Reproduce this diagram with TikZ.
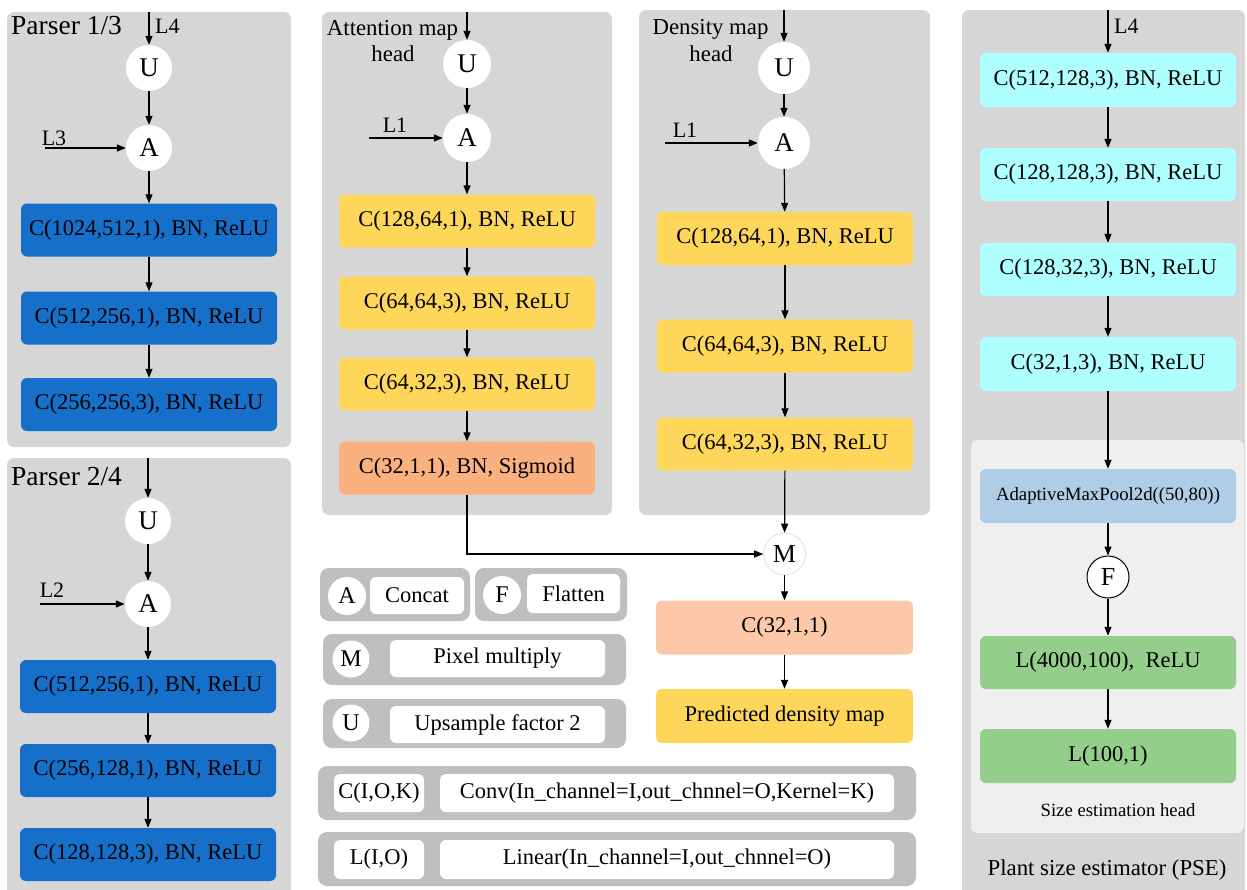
\documentclass[tikz,border=0pt]{standalone}
\usepackage{fontspec}
\setmainfont{Liberation Serif}
\usetikzlibrary{arrows.meta}
\definecolor{panelgray}{RGB}{214,214,214}
\definecolor{leggray}{RGB}{191,191,191}
\definecolor{innergray}{RGB}{239,239,239}
\definecolor{pblue}{RGB}{22,111,200}
\definecolor{pyellow}{RGB}{254,214,90}
\definecolor{psalmon}{RGB}{251,176,128}
\definecolor{plsalmon}{RGB}{253,200,168}
\definecolor{pcyan}{RGB}{176,255,255}
\definecolor{plblue}{RGB}{176,205,232}
\definecolor{pgreen}{RGB}{147,206,138}
\definecolor{mgray}{RGB}{215,215,215}
\begin{document}
\begin{tikzpicture}[x=1pt,y=-1pt,
 panel/.style={fill=panelgray, rounded corners=7pt},
 leg/.style={fill=leggray, rounded corners=9pt},
 blk/.style={rectangle, rounded corners=6pt, minimum width=256pt, minimum height=53pt, inner sep=0pt, font=\fontsize{22.5}{26}\selectfont},
 circ/.style={circle, fill=white, minimum size=47pt, inner sep=0pt, font=\fontsize{27}{30}\selectfont},
 arr/.style={-{Triangle[length=9pt,width=7pt]}, line width=1.2pt},
 lbl/.style={font=\fontsize{22}{26}\selectfont, inner sep=0pt, anchor=base},
 ttl/.style={font=\fontsize{22.8}{26}\selectfont, inner sep=0pt, anchor=base},
 legc/.style={circle, fill=white, minimum size=38pt, inner sep=0pt, font=\fontsize{24}{28}\selectfont},
 legt/.style={rectangle, fill=white, rounded corners=6pt, minimum height=37pt, inner sep=0pt, font=\fontsize{22.5}{26}\selectfont},
]
\useasboundingbox (0,0) rectangle (1247,889);

% ---------- panels ----------
\fill[panel] (7,12) rectangle (291,447);
\fill[panel] (7,458) rectangle (291,900);
\fill[panel] (322,12) rectangle (612,515);
\fill[panel] (639,10) rectangle (930,515);
\fill[panel] (962,10) rectangle (1245,900);
\fill[innergray, rounded corners=7pt] (971,440) rectangle (1244,833);

% ---------- Parser 1/3 ----------
\node[font=\fontsize{27.5}{30}\selectfont, inner sep=0pt, anchor=base west] (t1) at (11,34) {Parser 1/3};
\coordinate (in1) at (149,12);
\node[circ, minimum size=46pt] (U1) at (149,68) {U};
\node[circ, minimum size=46pt] (A1) at (149,148) {A};
\node[blk, fill=pblue] (p1a) at (149,230) {C(1024,512,1), BN, ReLU};
\node[blk, fill=pblue] (p1b) at (149,318) {C(512,256,1), BN, ReLU};
\node[blk, fill=pblue] (p1c) at (149,404.5) {C(256,256,3), BN, ReLU};
\node[lbl, anchor=base west] (l4a) at (155,33) {L4};
\coordinate (l3s) at (45,148);
\node[lbl] (l3) at (54,145) {L3};
\draw[arr] (in1) -- (U1);
\draw[arr] (U1) -- (A1);
\draw[arr] (l3s) -- (A1.west);
\draw[arr] (A1) -- (p1a);
\draw[arr] (p1a) -- (p1b);
\draw[arr] (p1b) -- (p1c);

% ---------- Parser 2/4 ----------
\node[font=\fontsize{27.5}{30}\selectfont, inner sep=0pt, anchor=base west] (t2) at (11,485) {Parser 2/4};
\coordinate (in2) at (148,458);
\node[circ, minimum size=46pt] (U2) at (148,521) {U};
\node[circ, minimum size=46pt] (A2) at (148,604) {A};
\node[blk, fill=pblue] (p2a) at (148,686.5) {C(512,256,1), BN, ReLU};
\node[blk, fill=pblue] (p2b) at (148,770.5) {C(256,128,1), BN, ReLU};
\node[blk, fill=pblue] (p2c) at (148,854.5) {C(128,128,3), BN, ReLU};
\coordinate (l2s) at (40,604);
\node[lbl] (l2) at (52,597) {L2};
\draw[arr] (in2) -- (U2);
\draw[arr] (U2) -- (A2);
\draw[arr] (l2s) -- (A2.west);
\draw[arr] (A2) -- (p2a);
\draw[arr] (p2a) -- (p2b);
\draw[arr] (p2b) -- (p2c);

% ---------- Attention map head ----------
\node[ttl] (t3a) at (392.5,35) {Attention map};
\node[ttl] (t3b) at (393,61) {head};
\coordinate (in3) at (467,12);
\node[circ, minimum size=48pt] (U3) at (467,64) {U};
\node[circ, minimum size=48pt] (A3) at (467,138) {A};
\node[blk, fill=pyellow] (at1) at (467,221) {C(128,64,1), BN, ReLU};
\node[blk, fill=pyellow] (at2) at (467,303) {C(64,64,3), BN, ReLU};
\node[blk, fill=pyellow] (at3) at (467,384) {C(64,32,3), BN, ReLU};
\node[blk, fill=psalmon] (at4) at (467,468) {C(32,1,1), BN, Sigmoid};
\coordinate (l1s) at (369,138);
\node[lbl] (l1a) at (395,132) {L1};
\draw[arr] (in3) -- (U3);
\draw[arr] (U3) -- (A3);
\draw[arr] (l1s) -- (A3.west);
\draw[arr] (A3) -- (at1);
\draw[arr] (at1) -- (at2);
\draw[arr] (at2) -- (at3);
\draw[arr] (at3) -- (at4);

% ---------- Density map head ----------
\node[ttl] (t4a) at (710.5,34) {Density map};
\node[ttl] (t4b) at (711,61) {head};
\coordinate (in4) at (784,10);
\node[circ, minimum size=52pt] (U4) at (784,68) {U};
\node[circ, minimum size=52pt] (A4) at (784,143) {A};
\node[blk, fill=pyellow] (d1) at (785,238.5) {C(128,64,1), BN, ReLU};
\node[blk, fill=pyellow] (d2) at (785,346) {C(64,64,3), BN, ReLU};
\node[blk, fill=pyellow] (d3) at (785,444) {C(64,32,3), BN, ReLU};
\coordinate (l1t) at (665,143);
\node[lbl] (l1b) at (685,137) {L1};
\draw[arr] (in4) -- (U4);
\draw[arr] (U4) -- (A4);
\draw[arr] (l1t) -- (A4.west);
\draw[arr] (A4) -- (d1);
\draw[arr] (d1) -- (d2);
\draw[arr] (d2) -- (d3);

% ---------- output ----------
\node[circle, fill=white, draw=mgray, line width=0.6pt, minimum size=42pt, inner sep=0pt, font=\fontsize{26}{30}\selectfont] (M) at (784.5,554) {M};
\node[blk, fill=plsalmon, minimum width=257pt, minimum height=54pt] (o1) at (784.5,627.5) {C(32,1,1)};
\node[blk, fill=pyellow, minimum width=257pt, minimum height=54pt] (o2) at (784.5,716) {Predicted density map};
\draw[arr] (d3) -- (M);
\draw[arr] (at4.south) |- (M.west);
\draw[arr] (M) -- (o1);
\draw[arr] (o1) -- (o2);

% ---------- PSE ----------
\coordinate (in5) at (1108,10);
\node[lbl, anchor=base west] (l4b) at (1114,33) {L4};
\node[blk, fill=pcyan, minimum height=54pt] (s1) at (1108,80) {C(512,128,3), BN, ReLU};
\node[blk, fill=pcyan] (s2) at (1108,174.5) {C(128,128,3), BN, ReLU};
\node[blk, fill=pcyan] (s3) at (1108,269.5) {C(128,32,3), BN, ReLU};
\node[blk, fill=pcyan, minimum height=54pt] (s4) at (1108,364) {C(32,1,3), BN, ReLU};
\node[blk, fill=plblue, minimum height=54pt, font=\fontsize{18.8}{22}\selectfont] (s5) at (1108,496) {AdaptiveMaxPool2d((50,80))};
\node[circle, fill=white, draw=black, line width=1pt, minimum size=42pt, inner sep=0pt, font=\fontsize{26}{30}\selectfont] (F) at (1108,577) {F};
\node[blk, fill=pgreen] (s6) at (1108,662.5) {L(4000,100),\ \ ReLU};
\node[blk, fill=pgreen, minimum height=54pt] (s7) at (1108,756) {L(100,1)};
\node[font=\fontsize{18.7}{22}\selectfont, inner sep=0pt, anchor=base] (seh) at (1118,816) {Size estimation head};
\node[ttl] (pse) at (1107,875) {Plant size estimator (PSE)};
\draw[arr] (in5) -- (s1);
\draw[arr] (s1) -- (s2);
\draw[arr] (s2) -- (s3);
\draw[arr] (s3) -- (s4);
\draw[arr] (s4) -- (s5);
\draw[arr] (s5) -- (F);
\draw[arr] (F) -- (s6);
\draw[arr] (s6) -- (s7);

% ---------- legend ----------
\fill[leg] (320,568) rectangle (470,621);
\fill[leg] (475,568) rectangle (627,621);
\fill[leg] (323,634) rectangle (626,685);
\fill[leg] (323,699) rectangle (626,748);
\fill[leg] (318,766) rectangle (916,820);
\fill[leg] (318,832) rectangle (916,886);
\node[legc] (gA) at (347,596) {A};
\node[legt, minimum width=94pt] (gAt) at (417,595.5) {Concat};
\node[legc] (gF) at (502,595) {F};
\node[legt, minimum width=93pt, minimum height=39pt] (gFt) at (573.5,593.5) {Flatten};
\node[legc, minimum size=37pt] (gM) at (351,659) {M};
\node[legt, minimum width=215pt] (gMt) at (497.5,658.5) {Pixel multiply};
\node[legc, minimum size=37pt] (gU) at (351,723) {U};
\node[legt, minimum width=215pt] (gUt) at (497.5,724.5) {Upsample factor 2};
\node[legt, minimum width=90pt, minimum height=38pt] (gC) at (379,793) {C(I,O,K)};
\node[legt, minimum width=454pt, minimum height=38pt] (gCt) at (667,793) {Conv(In\_channel=I,out\_chnnel=O,Kernel=K)};
\node[legt, minimum width=90pt, minimum height=39pt] (gL) at (379,859.5) {L(I,O)};
\node[legt, minimum width=454pt, minimum height=39pt] (gLt) at (667,859.5) {Linear(In\_channel=I,out\_chnnel=O)};
\end{tikzpicture}
\end{document}
